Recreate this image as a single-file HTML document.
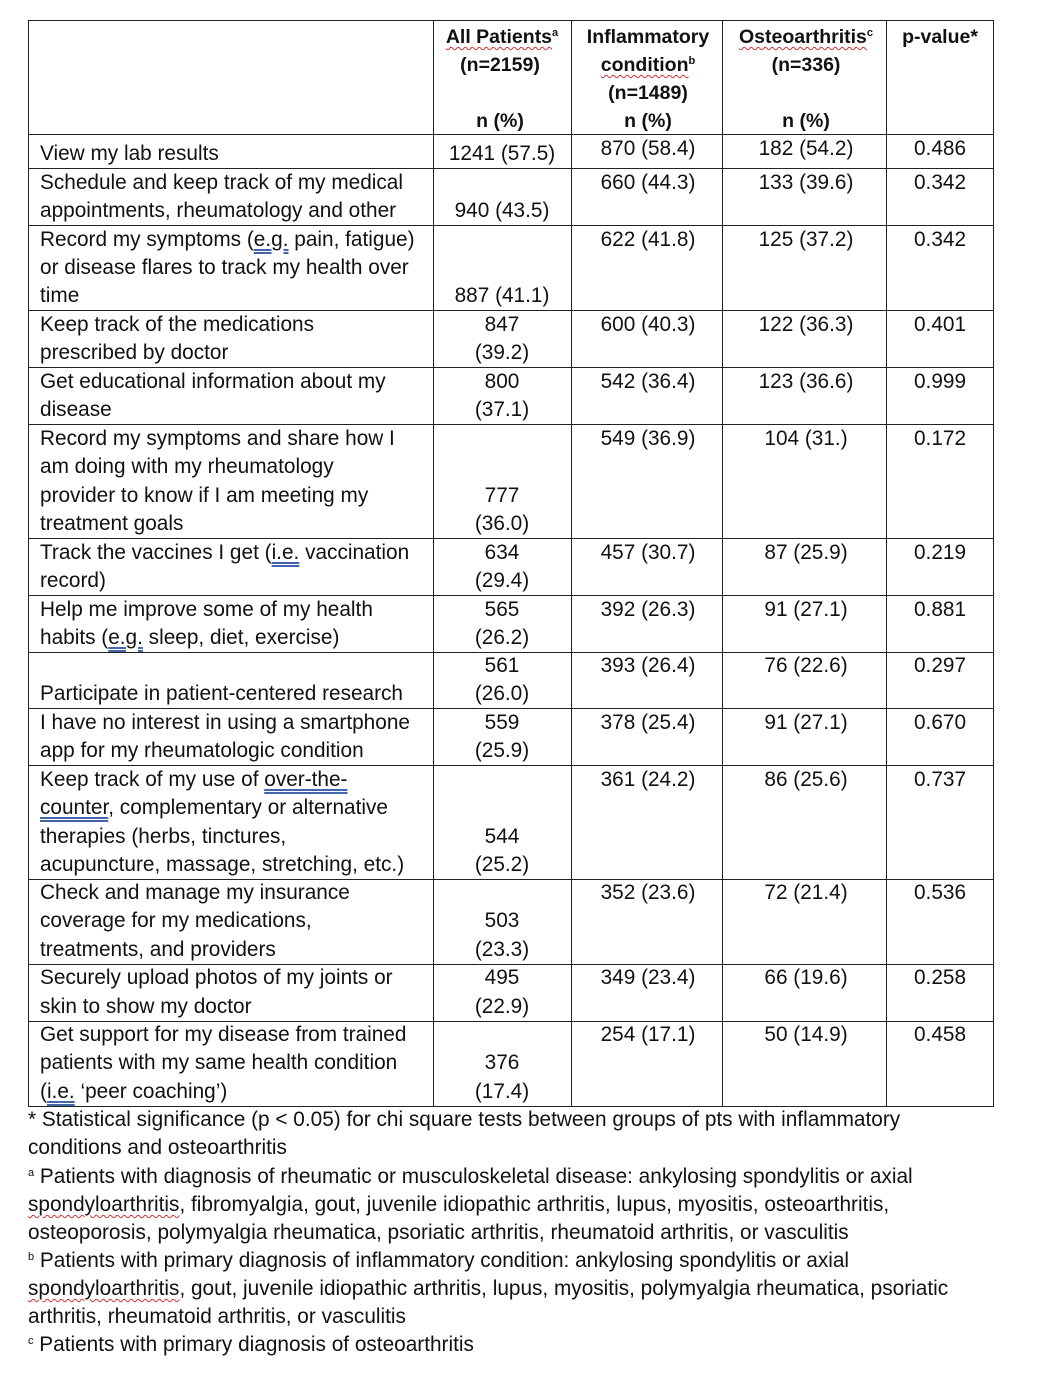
<!DOCTYPE html>
<html><head><meta charset="utf-8"><style>
body{margin:0;background:#fff;width:1042px;height:1377px;position:relative;overflow:hidden;font-family:"Liberation Sans",Arial,sans-serif;font-size:20.8px;color:#111}
.t{position:absolute;height:28px;line-height:28px;white-space:nowrap}
.c{transform:translateX(-50%)}
.b{font-weight:bold;font-size:19.5px}
.h{position:absolute;height:1px;background:#222;left:28px;width:966px}
.v{position:absolute;width:1px;background:#222;top:20px;height:1087px}
sup{font-size:11px;vertical-align:7px;line-height:0}
.sq{text-decoration:underline wavy #c33;text-decoration-thickness:1px;text-underline-offset:3px}
.u{text-decoration:underline double #46a;text-underline-offset:3px}
</style></head><body>
<div class="h" style="top:20px"></div><div class="h" style="top:134px"></div><div class="h" style="top:168px"></div><div class="h" style="top:225px"></div><div class="h" style="top:310px"></div><div class="h" style="top:367px"></div><div class="h" style="top:424px"></div><div class="h" style="top:538px"></div><div class="h" style="top:595px"></div><div class="h" style="top:652px"></div><div class="h" style="top:708px"></div><div class="h" style="top:765px"></div><div class="h" style="top:879px"></div><div class="h" style="top:964px"></div><div class="h" style="top:1021px"></div><div class="h" style="top:1106px"></div>
<div class="v" style="left:28px"></div><div class="v" style="left:433px"></div><div class="v" style="left:571px"></div><div class="v" style="left:722px"></div><div class="v" style="left:886px"></div><div class="v" style="left:993px"></div>

<div class="t c b" style="left:502px;top:23px"><span class="sq">All Patients</span><sup>a</sup></div>
<div class="t c b" style="left:500px;top:51px">(n=2159)</div>
<div class="t c b" style="left:500px;top:107px">n (%)</div>
<div class="t c b" style="left:648px;top:23px">Inflammatory</div>
<div class="t c b" style="left:648px;top:51px"><span class="sq">condition</span><sup>b</sup></div>
<div class="t c b" style="left:648px;top:79px">(n=1489)</div>
<div class="t c b" style="left:648px;top:107px">n (%)</div>
<div class="t c b" style="left:806px;top:23px"><span class="sq">Osteoarthritis</span><sup>c</sup></div>
<div class="t c b" style="left:806px;top:51px">(n=336)</div>
<div class="t c b" style="left:806px;top:107px">n (%)</div>
<div class="t c b" style="left:940px;top:23px">p-value*</div>

<div class="t" style="left:40px;top:140px">View my lab results</div>
<div class="t c" style="left:502px;top:140px">1241 (57.5)</div>
<div class="t c" style="left:648px;top:135px">870 (58.4)</div><div class="t c" style="left:806px;top:135px">182 (54.2)</div><div class="t c" style="left:940px;top:135px">0.486</div>

<div class="t" style="left:40px;top:169px">Schedule and keep track of my medical</div>
<div class="t" style="left:40px;top:197px">appointments, rheumatology and other</div>
<div class="t c" style="left:502px;top:197px">940 (43.5)</div>
<div class="t c" style="left:648px;top:169px">660 (44.3)</div><div class="t c" style="left:806px;top:169px">133 (39.6)</div><div class="t c" style="left:940px;top:169px">0.342</div>

<div class="t" style="left:40px;top:226px">Record my symptoms (<span class="u">e.g.</span> pain, fatigue)</div>
<div class="t" style="left:40px;top:254px">or disease flares to track my health over</div>
<div class="t" style="left:40px;top:282px">time</div>
<div class="t c" style="left:502px;top:282px">887 (41.1)</div>
<div class="t c" style="left:648px;top:226px">622 (41.8)</div><div class="t c" style="left:806px;top:226px">125 (37.2)</div><div class="t c" style="left:940px;top:226px">0.342</div>

<div class="t" style="left:40px;top:311px">Keep track of the medications</div>
<div class="t" style="left:40px;top:339px">prescribed by doctor</div>
<div class="t c" style="left:502px;top:311px">847</div><div class="t c" style="left:502px;top:339px">(39.2)</div>
<div class="t c" style="left:648px;top:311px">600 (40.3)</div><div class="t c" style="left:806px;top:311px">122 (36.3)</div><div class="t c" style="left:940px;top:311px">0.401</div>

<div class="t" style="left:40px;top:368px">Get educational information about my</div>
<div class="t" style="left:40px;top:396px">disease</div>
<div class="t c" style="left:502px;top:368px">800</div><div class="t c" style="left:502px;top:396px">(37.1)</div>
<div class="t c" style="left:648px;top:368px">542 (36.4)</div><div class="t c" style="left:806px;top:368px">123 (36.6)</div><div class="t c" style="left:940px;top:368px">0.999</div>

<div class="t" style="left:40px;top:425px">Record my symptoms and share how I</div>
<div class="t" style="left:40px;top:453px">am doing with my rheumatology</div>
<div class="t" style="left:40px;top:482px">provider to know if I am meeting my</div>
<div class="t" style="left:40px;top:510px">treatment goals</div>
<div class="t c" style="left:502px;top:482px">777</div><div class="t c" style="left:502px;top:510px">(36.0)</div>
<div class="t c" style="left:648px;top:425px">549 (36.9)</div><div class="t c" style="left:806px;top:425px">104 (31.)</div><div class="t c" style="left:940px;top:425px">0.172</div>

<div class="t" style="left:40px;top:539px">Track the vaccines I get (<span class="u">i.e.</span> vaccination</div>
<div class="t" style="left:40px;top:567px">record)</div>
<div class="t c" style="left:502px;top:539px">634</div><div class="t c" style="left:502px;top:567px">(29.4)</div>
<div class="t c" style="left:648px;top:539px">457 (30.7)</div><div class="t c" style="left:806px;top:539px">87 (25.9)</div><div class="t c" style="left:940px;top:539px">0.219</div>

<div class="t" style="left:40px;top:596px">Help me improve some of my health</div>
<div class="t" style="left:40px;top:624px">habits (<span class="u">e.g.</span> sleep, diet, exercise)</div>
<div class="t c" style="left:502px;top:596px">565</div><div class="t c" style="left:502px;top:624px">(26.2)</div>
<div class="t c" style="left:648px;top:596px">392 (26.3)</div><div class="t c" style="left:806px;top:596px">91 (27.1)</div><div class="t c" style="left:940px;top:596px">0.881</div>

<div class="t" style="left:40px;top:680px">Participate in patient-centered research</div>
<div class="t c" style="left:502px;top:652px">561</div><div class="t c" style="left:502px;top:680px">(26.0)</div>
<div class="t c" style="left:648px;top:652px">393 (26.4)</div><div class="t c" style="left:806px;top:652px">76 (22.6)</div><div class="t c" style="left:940px;top:652px">0.297</div>

<div class="t" style="left:40px;top:709px">I have no interest in using a smartphone</div>
<div class="t" style="left:40px;top:737px">app for my rheumatologic condition</div>
<div class="t c" style="left:502px;top:709px">559</div><div class="t c" style="left:502px;top:737px">(25.9)</div>
<div class="t c" style="left:648px;top:709px">378 (25.4)</div><div class="t c" style="left:806px;top:709px">91 (27.1)</div><div class="t c" style="left:940px;top:709px">0.670</div>

<div class="t" style="left:40px;top:766px">Keep track of my use of <span class="u">over-the-</span></div>
<div class="t" style="left:40px;top:794px"><span class="u">counter</span>, complementary or alternative</div>
<div class="t" style="left:40px;top:823px">therapies (herbs, tinctures,</div>
<div class="t" style="left:40px;top:851px">acupuncture, massage, stretching, etc.)</div>
<div class="t c" style="left:502px;top:823px">544</div><div class="t c" style="left:502px;top:851px">(25.2)</div>
<div class="t c" style="left:648px;top:766px">361 (24.2)</div><div class="t c" style="left:806px;top:766px">86 (25.6)</div><div class="t c" style="left:940px;top:766px">0.737</div>

<div class="t" style="left:40px;top:879px">Check and manage my insurance</div>
<div class="t" style="left:40px;top:907px">coverage for my medications,</div>
<div class="t" style="left:40px;top:936px">treatments, and providers</div>
<div class="t c" style="left:502px;top:907px">503</div><div class="t c" style="left:502px;top:936px">(23.3)</div>
<div class="t c" style="left:648px;top:879px">352 (23.6)</div><div class="t c" style="left:806px;top:879px">72 (21.4)</div><div class="t c" style="left:940px;top:879px">0.536</div>

<div class="t" style="left:40px;top:964px">Securely upload photos of my joints or</div>
<div class="t" style="left:40px;top:993px">skin to show my doctor</div>
<div class="t c" style="left:502px;top:964px">495</div><div class="t c" style="left:502px;top:993px">(22.9)</div>
<div class="t c" style="left:648px;top:964px">349 (23.4)</div><div class="t c" style="left:806px;top:964px">66 (19.6)</div><div class="t c" style="left:940px;top:964px">0.258</div>

<div class="t" style="left:40px;top:1021px">Get support for my disease from trained</div>
<div class="t" style="left:40px;top:1049px">patients with my same health condition</div>
<div class="t" style="left:40px;top:1078px">(<span class="u">i.e.</span> ‘peer coaching’)</div>
<div class="t c" style="left:502px;top:1049px">376</div><div class="t c" style="left:502px;top:1078px">(17.4)</div>
<div class="t c" style="left:648px;top:1021px">254 (17.1)</div><div class="t c" style="left:806px;top:1021px">50 (14.9)</div><div class="t c" style="left:940px;top:1021px">0.458</div>

<div class="t" style="left:28px;top:1106px">* Statistical significance (p &lt; 0.05) for chi square tests between groups of pts with inflammatory</div>
<div class="t" style="left:28px;top:1134px">conditions and osteoarthritis</div>
<div class="t" style="left:28px;top:1163px"><sup>a</sup> Patients with diagnosis of rheumatic or musculoskeletal disease: ankylosing spondylitis or axial</div>
<div class="t" style="left:28px;top:1191px"><span class="sq">spondyloarthritis</span>, fibromyalgia, gout, juvenile idiopathic arthritis, lupus, myositis, osteoarthritis,</div>
<div class="t" style="left:28px;top:1219px">osteoporosis, polymyalgia rheumatica, psoriatic arthritis, rheumatoid arthritis, or vasculitis</div>
<div class="t" style="left:28px;top:1247px"><sup>b</sup> Patients with primary diagnosis of inflammatory condition: ankylosing spondylitis or axial</div>
<div class="t" style="left:28px;top:1275px"><span class="sq">spondyloarthritis</span>, gout, juvenile idiopathic arthritis, lupus, myositis, polymyalgia rheumatica, psoriatic</div>
<div class="t" style="left:28px;top:1303px">arthritis, rheumatoid arthritis, or vasculitis</div>
<div class="t" style="left:28px;top:1331px"><sup>c</sup> Patients with primary diagnosis of osteoarthritis</div>
</body></html>
